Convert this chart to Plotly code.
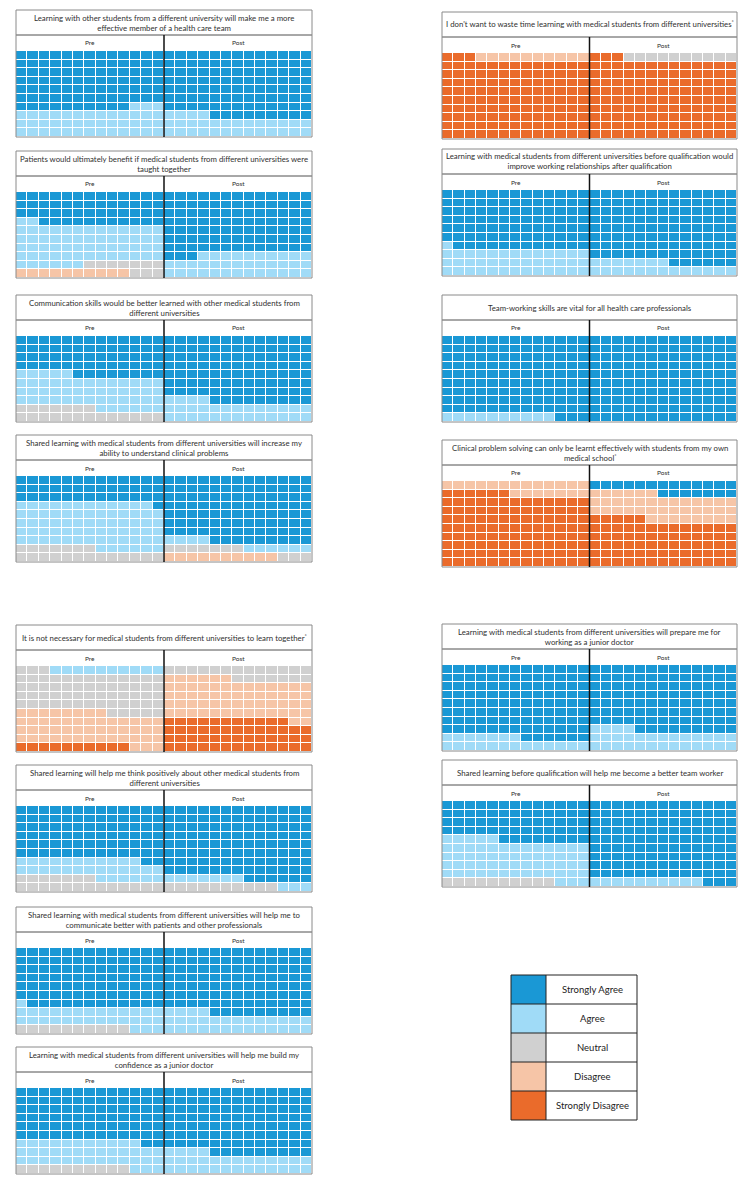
import plotly.graph_objects as go

W, H = 750, 1184

# ---------------- data ----------------
categories = ["Strongly Agree", "Agree", "Neutral", "Disagree", "Strongly Disagree"]
periods = ["Pre", "Post"]

statements = [
    "Learning with other students from a different university will make me a more<br>effective member of a health care team",
    "Patients would ultimately benefit if medical students from different universities were<br>taught together",
    "Communication skills would be better learned with other medical students from<br>different universities",
    "Shared learning with medical students from different universities will increase my<br>ability to understand clinical problems",
    "It is not necessary for medical students from different universities to learn together<sup>*</sup>",
    "Shared learning will help me think positively about other medical students from<br>different universities",
    "Shared learning with medical students from different universities will help me to<br>communicate better with patients and other professionals",
    "Learning with medical students from different universities will help me build my<br>confidence as a junior doctor",
    "I don't want to waste time learning with medical students from different universities<sup>*</sup>",
    "Learning with medical students from different universities before qualification would<br>improve working relationships after qualification",
    "Team-working skills are vital for all health care professionals",
    "Clinical problem solving can only be learnt effectively with students from my own<br>medical school<sup>*</sup>",
    "Learning with medical students from different universities will prepare me for<br>working as a junior doctor",
    "Shared learning before qualification will help me become a better team worker",
]

# number of waffle cells (of 130) per category: SA, A, N, D, SD
pre_counts = [
    [88, 42, 0, 0, 0],
    [50, 60, 10, 10, 0],
    [60, 50, 20, 0, 0],
    [40, 70, 20, 0, 0],
    [0, 10, 60, 50, 10],
    [80, 30, 20, 0, 0],
    [90, 30, 10, 0, 0],
    [80, 40, 10, 0, 0],
    [0, 0, 0, 10, 120],
    [90, 40, 0, 0, 0],
    [120, 10, 0, 0, 0],
    [0, 0, 0, 20, 110],
    [110, 20, 0, 0, 0],
    [60, 60, 10, 0, 0],
]
post_counts = [
    [100, 30, 0, 0, 0],
    [94, 36, 0, 0, 0],
    [100, 30, 0, 0, 0],
    [100, 10, 10, 10, 0],
    [0, 0, 20, 60, 50],
    [110, 10, 10, 0, 0],
    [100, 30, 0, 0, 0],
    [100, 30, 0, 0, 0],
    [0, 0, 10, 0, 120],
    [110, 20, 0, 0, 0],
    [130, 0, 0, 0, 0],
    [20, 0, 0, 40, 70],
    [100, 30, 0, 0, 0],
    [120, 10, 0, 0, 0],
]

# ---------------- layout / style ----------------
colors = ["#1a98d5", "#a0dbf7", "#d0d0d0", "#f6c5a7", "#ea6b2b"]
COLS, ROWS = 13, 10
# rows (1-based) whose cells are filled right-to-left
flip_pre = [[], [4, 10], [5, 9], [4, 9], [1, 6, 10], [7, 9], [7, 10], [7, 10],
            [1], [7], [10], [2], [9], [5, 10]]
flip_post = [[8], [], [8], [8, 9, 10], [2, 7], [9, 10], [8], [8],
             [1], [9], [], [2, 5], [8], [10]]
# (left x, right x, top y) in pixels
panel_pos = [
    (16, 312, 10), (16, 312, 151), (16, 312, 295), (16, 312, 435),
    (16, 312, 625), (16, 312, 765), (16, 312, 907), (16, 312, 1047),
    (442, 737, 12), (442, 737, 149), (442, 737, 295), (442, 737, 440),
    (442, 737, 624), (442, 737, 760),
]
TITLE_H, HEAD_H, GRID_H = 25, 16, 86
FONT = "Lato, Liberation Sans, sans-serif"
BORDER = "#8a8a8a"


def px(x):
    return x / W


def py(y):
    return 1 - y / H


def build_half(counts, flips):
    seq = []
    for k, n in enumerate(counts):
        seq += [k] * n
    rows = []
    for r in range(ROWS):
        row = seq[r * COLS:(r + 1) * COLS]
        if (r + 1) in flips:
            row = row[::-1]
        rows.append(row)
    return rows


cs = []
n = len(colors)
for k, c in enumerate(colors):
    cs.append([k / n, c])
    cs.append([(k + 1) / n, c])

fig = go.Figure()
shapes, annotations = [], []
layout_axes = {}

for i, (stmt, pc, qc) in enumerate(zip(statements, pre_counts, post_counts)):
    x0, x1, top = panel_pos[i]
    t_bot = top + TITLE_H
    g_top = t_bot + HEAD_H
    g_bot = g_top + GRID_H
    pre = build_half(pc, flip_pre[i])
    post = build_half(qc, flip_post[i])
    z = [a + b for a, b in zip(pre, post)]
    ax = "" if i == 0 else str(i + 1)
    fig.add_trace(go.Heatmap(
        z=z, x=list(range(2 * COLS)), y=list(range(ROWS)),
        colorscale=cs, zmin=-0.5, zmax=n - 0.5, showscale=False,
        xgap=1, ygap=1, hoverinfo="skip",
        xaxis="x" + ax, yaxis="y" + ax,
    ))
    layout_axes["xaxis" + ax] = dict(domain=[px(x0), px(x1)], range=[-0.5, 2 * COLS - 0.5],
                                     visible=False, anchor="y" + ax, fixedrange=True)
    layout_axes["yaxis" + ax] = dict(domain=[py(g_bot), py(g_top)], range=[ROWS - 0.5, -0.5],
                                     visible=False, anchor="x" + ax, fixedrange=True)
    # title box
    shapes.append(dict(type="rect", xref="paper", yref="paper", x0=px(x0), x1=px(x1),
                       y0=py(t_bot), y1=py(top), line=dict(color=BORDER, width=1)))
    # header+grid box
    shapes.append(dict(type="rect", xref="paper", yref="paper", x0=px(x0), x1=px(x1),
                       y0=py(g_bot), y1=py(t_bot), line=dict(color=BORDER, width=1)))
    xm = (x0 + x1) / 2
    shapes.append(dict(type="line", xref="paper", yref="paper", x0=px(xm), x1=px(xm),
                       y0=py(g_bot), y1=py(t_bot), line=dict(color="#111111", width=1.5)))
    annotations.append(dict(xref="paper", yref="paper", x=px(xm), y=py((top + t_bot) / 2),
                            text=stmt, showarrow=False, xanchor="center", yanchor="middle",
                            font=dict(family=FONT, size=7.8, color="#303030")))
    for j, lab in enumerate(periods):
        cx = x0 + (x1 - x0) * (0.25 + 0.5 * j)
        annotations.append(dict(xref="paper", yref="paper", x=px(cx), y=py((t_bot + g_top) / 2),
                                text=lab, showarrow=False, xanchor="center", yanchor="middle",
                                font=dict(family=FONT, size=6.5, color="#303030")))

# legend
LX0, LX1, LXS, LY0, LY1 = 511, 637, 546, 975, 1120
li = len(statements) + 1
fig.add_trace(go.Heatmap(
    z=[[k] for k in range(n)], x=[0], y=list(range(n)),
    colorscale=cs, zmin=-0.5, zmax=n - 0.5, showscale=False, hoverinfo="skip",
    xaxis=f"x{li}", yaxis=f"y{li}",
))
layout_axes[f"xaxis{li}"] = dict(domain=[px(LX0), px(LXS)], range=[-0.5, 0.5], visible=False,
                                 anchor=f"y{li}", fixedrange=True)
layout_axes[f"yaxis{li}"] = dict(domain=[py(LY1), py(LY0)], range=[n - 0.5, -0.5], visible=False,
                                 anchor=f"x{li}", fixedrange=True)
rh = (LY1 - LY0) / n
shapes.append(dict(type="rect", xref="paper", yref="paper", x0=px(LX0), x1=px(LX1),
                   y0=py(LY1), y1=py(LY0), line=dict(color="#222222", width=1)))
shapes.append(dict(type="line", xref="paper", yref="paper", x0=px(LXS), x1=px(LXS),
                   y0=py(LY1), y1=py(LY0), line=dict(color="#222222", width=1)))
for k, cat in enumerate(categories):
    if k > 0:
        shapes.append(dict(type="line", xref="paper", yref="paper", x0=px(LX0), x1=px(LX1),
                           y0=py(LY0 + k * rh), y1=py(LY0 + k * rh),
                           line=dict(color="#222222", width=1)))
    annotations.append(dict(xref="paper", yref="paper", x=px(592),
                            y=py(LY0 + (k + 0.5) * rh), text=cat, showarrow=False,
                            xanchor="center", yanchor="middle",
                            font=dict(family=FONT, size=9.5, color="#222222")))

fig.update_layout(
    width=W, height=H, margin=dict(l=0, r=0, t=0, b=0),
    paper_bgcolor="white", plot_bgcolor="white",
    shapes=shapes, annotations=annotations, showlegend=False,
    **layout_axes,
)

fig.write_html("out.html")
